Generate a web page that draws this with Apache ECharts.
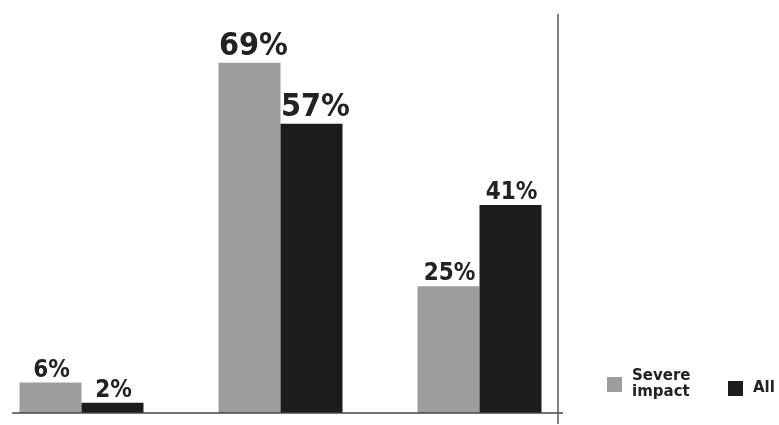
<!DOCTYPE html>
<html>
<head>
<meta charset="utf-8">
<script src="https://cdn.jsdelivr.net/npm/echarts@6/dist/echarts.min.js"></script>
<style>html,body{margin:0;padding:0;background:#fff}#c{width:779px;height:425px}</style>
</head>
<body>
<div id="c"></div>
<script>
const categories = ['A', 'B', 'C'];
const severeImpact = [6, 69, 25];
const allValues = [2, 57, 41];
const seriesNames = ['Severe impact', 'All'];
const bigLabel = 50; // values above this get the larger label

const chart = echarts.init(document.getElementById('c'));
const font = 'DejaVu Sans Condensed';
function toData(arr) {
  return arr.map(v => ({
    value: v,
    label: v > bigLabel ? { fontSize: 32, offset: [4, 0] } : { fontSize: 24, offset: [1, 0] }
  }));
}
const labelCfg = {
  show: true, position: 'top', distance: 0,
  formatter: p => p.value + '%',
  color: '#222', fontFamily: font, fontWeight: 'bold'
};
const legendText = { fontFamily: 'DejaVu Sans', fontWeight: 'bold', fontSize: 15, color: '#222', lineHeight: 16 };
chart.setOption({
  animation: false,
  backgroundColor: '#fff',
  grid: { left: 81.5, right: 299.5, top: 7, bottom: 12, containLabel: false },
  xAxis: {
    type: 'category', data: categories, boundaryGap: false,
    axisLine: { show: false }, axisTick: { show: false }, axisLabel: { show: false },
    splitLine: { show: false }
  },
  yAxis: {
    type: 'value', min: 0, max: 80, show: false, splitLine: { show: false }
  },
  legend: [
    {
      data: [seriesNames[0]],
      left: 602, top: 356.5, itemWidth: 15, itemHeight: 15,
      icon: 'rect',
      formatter: n => n.replace(' ', '\n'),
      textStyle: Object.assign({}, legendText, { padding: [0, 0, 14, 5] })
    },
    {
      data: [seriesNames[1]],
      left: 723, top: 375.5, itemWidth: 15, itemHeight: 15,
      icon: 'rect',
      textStyle: Object.assign({}, legendText, { padding: [0, 0, 0, 5] })
    }
  ],
  series: [
    { name: seriesNames[0], type: 'bar', data: toData(severeImpact), barWidth: 62, barGap: '0%',
      itemStyle: { color: '#9d9d9d' }, label: labelCfg },
    { name: seriesNames[1], type: 'bar', data: toData(allValues), barWidth: 62, barGap: '0%',
      itemStyle: { color: '#1c1c1c' }, label: labelCfg }
  ],
  graphic: [
    { type: 'line', shape: { x1: 12, y1: 413, x2: 563, y2: 413 }, style: { stroke: '#444', lineWidth: 1.5 }, z: 10 },
    { type: 'line', shape: { x1: 558, y1: 14, x2: 558, y2: 424 }, style: { stroke: '#555', lineWidth: 1.5 }, z: 10 }
  ]
});
</script>
</body>
</html>
